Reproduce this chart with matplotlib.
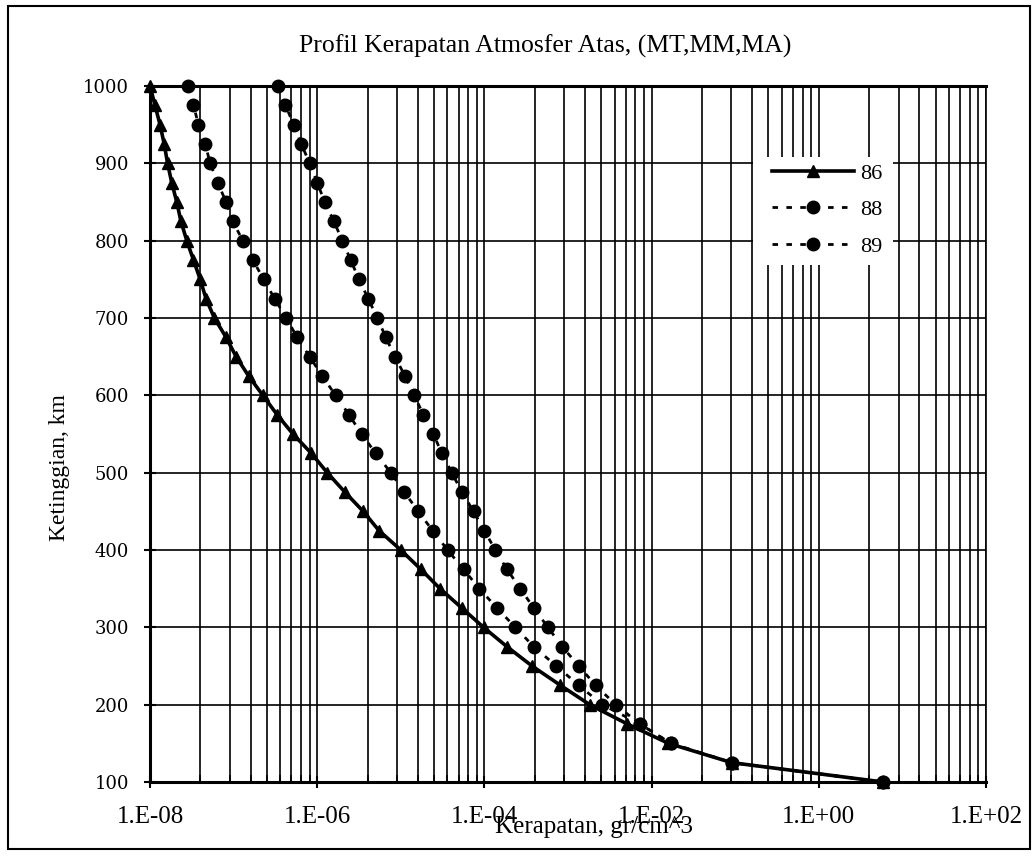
import numpy as np
import matplotlib
matplotlib.use("Agg")
import matplotlib.pyplot as plt
from matplotlib.patches import Rectangle

plt.rcParams['font.family'] = ['Liberation Serif', 'DejaVu Serif']

# heights (km) at which each profile is sampled
heights = [1000, 975, 950, 925, 900, 875, 850, 825, 800, 775, 750, 725, 700,
           675, 650, 625, 600, 575, 550, 525, 500, 475, 450, 425, 400, 375,
           350, 325, 300, 275, 250, 225, 200, 175, 150, 125, 100]

# log10 of density (gr/cm^3)
log_rho_86 = [-8.00, -7.94, -7.88, -7.83, -7.79, -7.74, -7.68, -7.63, -7.56,
              -7.48, -7.40, -7.33, -7.23, -7.09, -6.97, -6.82, -6.65, -6.48,
              -6.29, -6.07, -5.88, -5.67, -5.45, -5.26, -5.00, -4.76, -4.53,
              -4.27, -4.01, -3.73, -3.43, -3.09, -2.74, -2.29, -1.80, -1.04,
              0.77]
log_rho_88 = [-7.55, -7.48, -7.42, -7.34, -7.28, -7.19, -7.09, -7.01, -6.89,
              -6.77, -6.64, -6.51, -6.37, -6.24, -6.09, -5.94, -5.78, -5.62,
              -5.47, -5.30, -5.12, -4.96, -4.79, -4.62, -4.44, -4.25, -4.06,
              -3.85, -3.63, -3.41, -3.14, -2.87, -2.59, -2.14, -1.77, -1.04,
              0.77]
log_rho_89 = [-6.47, -6.38, -6.28, -6.19, -6.09, -6.00, -5.91, -5.80, -5.70,
              -5.60, -5.50, -5.39, -5.28, -5.18, -5.07, -4.95, -4.84, -4.73,
              -4.61, -4.51, -4.39, -4.27, -4.13, -4.00, -3.87, -3.73, -3.57,
              -3.41, -3.24, -3.07, -2.87, -2.67, -2.43, -2.14, -1.77, -1.04,
              0.77]

x_ticks = [1e-8, 1e-6, 1e-4, 1e-2, 1e0, 1e2]
x_tick_labels = ['1.E-08', '1.E-06', '1.E-04', '1.E-02', '1.E+00', '1.E+02']
y_ticks = [100, 200, 300, 400, 500, 600, 700, 800, 900, 1000]

W, H = 1036, 861
fig = plt.figure(figsize=(W / 100, H / 100), dpi=100)
fig.patch.set_facecolor('white')
ax_left, ax_right, ax_top, ax_bottom = 150, 986, 86, 782
ax = fig.add_axes([ax_left / W, 1 - ax_bottom / H, (ax_right - ax_left) / W,
                   (ax_bottom - ax_top) / H])

ax.set_xscale('log')
ax.set_xlim(1e-8, 1e2)
ax.set_ylim(100, 1000)

# excel style grid: majors every 100x, minors at k^2 times the major
minor = []
for major in x_ticks[:-1]:
    for k in range(2, 10):
        minor.append(major * k * k)
for xv in x_ticks + minor:
    ax.axvline(xv, color='black', lw=1.2, zorder=1)
for yv in y_ticks:
    ax.axhline(yv, color='black', lw=1.2, zorder=1)

ax.set_xticks(x_ticks)
ax.set_xticklabels(x_tick_labels)
ax.set_xticks(minor, minor=True)
ax.xaxis.set_minor_formatter(plt.NullFormatter())
ax.set_yticks(y_ticks)
ax.tick_params(axis='both', which='major', direction='inout', length=8,
               width=1.5, colors='black')
ax.tick_params(axis='x', which='major', labelsize=18, pad=13)
ax.tick_params(axis='y', which='major', labelsize=13, pad=11)
for lbl in ax.get_yticklabels():
    lbl.set_fontfamily('DejaVu Serif')
ax.tick_params(axis='x', which='minor', direction='in', length=5, width=1.2)

for side in ['left', 'bottom', 'top', 'right']:
    ax.spines[side].set_linewidth(2.2)
ax.spines['right'].set_linewidth(1.2)

rho_86 = 10 ** np.array(log_rho_86)
rho_88 = 10 ** np.array(log_rho_88)
rho_89 = 10 ** np.array(log_rho_89)

ax.plot(rho_86, heights, color='black', lw=2.6, marker='^', ms=8,
        label='86', zorder=4, clip_on=False)
ax.plot(rho_88, heights, color='black', lw=2, ls=(0, (2, 3)), marker='o',
        ms=9, label='88', zorder=3, clip_on=False)
ax.plot(rho_89, heights, color='black', lw=2, ls=(0, (2, 3)), marker='o',
        ms=9, label='89', zorder=3, clip_on=False)

# white legend box without border, like the excel chart
def ax_x(px):
    return (px - ax_left) / (ax_right - ax_left)

def ax_y(py):
    return (ax_bottom - py) / (ax_bottom - ax_top)

ax.add_patch(Rectangle((ax_x(753), ax_y(265)), ax_x(893) - ax_x(753),
                       ax_y(157) - ax_y(265), transform=ax.transAxes,
                       facecolor='white', edgecolor='none', zorder=4.5))
leg = ax.legend(loc='upper left', bbox_to_anchor=(ax_x(772), ax_y(163)),
                fontsize=16, frameon=False, handlelength=3.7,
                labelspacing=0.72, handletextpad=0.25, borderpad=0,
                borderaxespad=0)

fig.text(545 / W, 1 - 46 / H, 'Profil Kerapatan Atmosfer Atas, (MT,MM,MA)',
         ha='center', va='center', fontsize=18.5)
fig.text(594 / W, 1 - 827 / H, 'Kerapatan, gr/cm^3', ha='center',
         va='center', fontsize=18)
fig.text(60 / W, 1 - 468 / H, 'Ketinggian, km', ha='center', va='center',
         rotation=90, fontsize=17)

fig.patches.append(Rectangle((8 / W, 12 / H), 1 - 14 / W, 1 - 18 / H,
                             transform=fig.transFigure, fill=False,
                             edgecolor='black', lw=1.5))

fig.savefig('out.png', dpi=100)
